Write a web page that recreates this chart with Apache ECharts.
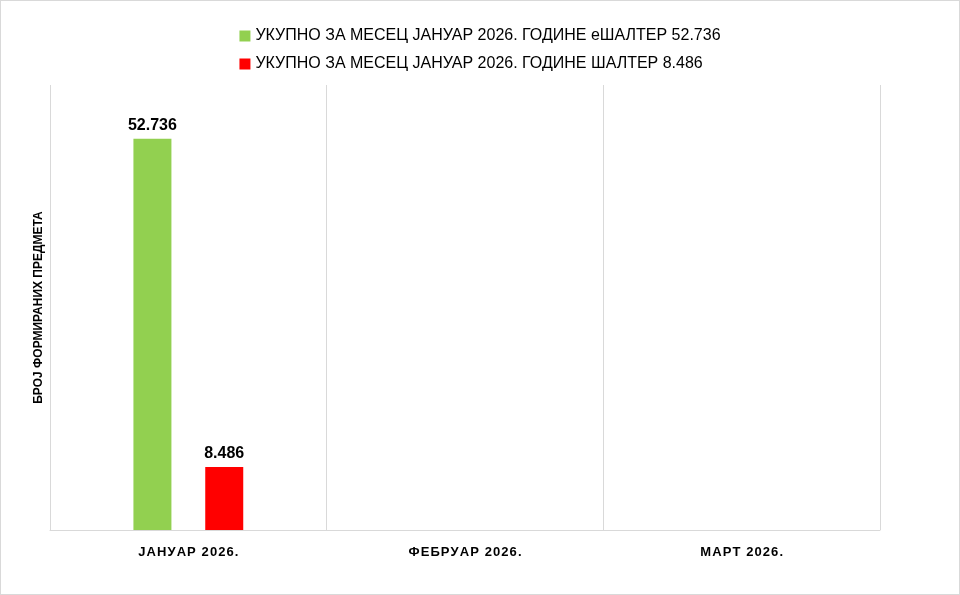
<!DOCTYPE html>
<html><head><meta charset="utf-8">
<script src="https://cdn.jsdelivr.net/npm/echarts@6/dist/echarts.min.js"></script>
<style>html,body{margin:0;padding:0;background:#fff}#c{width:958px;height:593px;border:1px solid #d9d9d9}</style>
</head><body><div id="c"></div>
<script>
const categories = ['ЈАНУАР 2026.', 'ФЕБРУАР 2026.', 'МАРТ 2026.'];
const seriesNames = ['УКУПНО ЗА МЕСЕЦ ЈАНУАР 2026. ГОДИНЕ еШАЛТЕР 52.736', 'УКУПНО ЗА МЕСЕЦ ЈАНУАР 2026. ГОДИНЕ ШАЛТЕР 8.486'];
const eShalter = [52736, null, null];
const shalter = [8486, null, null];
const colors = ['#92d050', '#ff0000'];
const fmt = v => v.toLocaleString('de-DE');
const chart = echarts.init(document.getElementById('c'));
chart.setOption({
  animation: false,
  textStyle: {fontFamily: 'Liberation Sans'},
  legend: {orient: 'vertical', top: 22, left: 'center', itemWidth: 11, itemHeight: 11, itemGap: 12,
    icon: 'rect', textStyle: {fontSize: 16, color: '#000'}},
  grid: {left: 49, right: 79, top: 84, bottom: 64},
  xAxis: {type: 'category', data: categories,
    axisLine: {lineStyle: {color: '#d9d9d9'}}, axisTick: {show: false},
    splitLine: {show: true, lineStyle: {color: '#d9d9d9'}},
    axisLabel: {fontWeight: 'bold', fontSize: 13, color: '#000', margin: 16,
      formatter: v => v.split('').join('\u200a')}},
  yAxis: {type: 'value', min: 0, max: 60000, axisLabel: {show: false}, splitLine: {show: false},
    name: 'БРОЈ ФОРМИРАНИХ ПРЕДМЕТА', nameLocation: 'middle', nameGap: 5, nameRotate: 90,
    nameTextStyle: {fontWeight: 'bold', fontSize: 12, color: '#000'}},
  series: [
    {name: seriesNames[0], type: 'bar', data: eShalter, barWidth: 38, barGap: '89%', itemStyle: {color: colors[0]},
     label: {show: true, position: 'top', fontWeight: 'bold', fontSize: 16, color: '#000', formatter: p => fmt(p.value)}},
    {name: seriesNames[1], type: 'bar', data: shalter, barWidth: 38, itemStyle: {color: colors[1]},
     label: {show: true, position: 'top', fontWeight: 'bold', fontSize: 16, color: '#000', formatter: p => fmt(p.value)}}
  ]
});
</script></body></html>
